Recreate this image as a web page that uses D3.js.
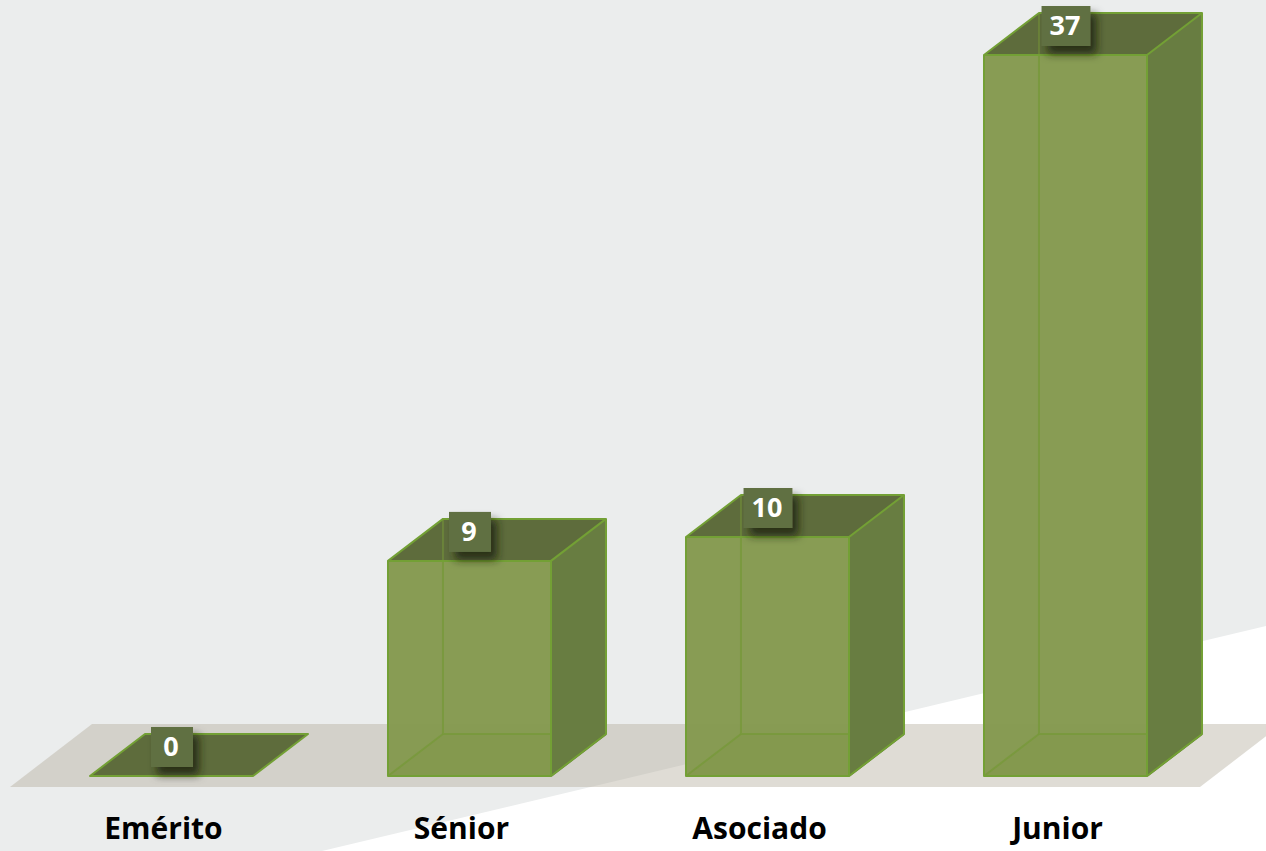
<!DOCTYPE html>
<html>
<head>
<meta charset="utf-8">
<script src="https://cdn.jsdelivr.net/npm/d3@7"></script>
<style>
  html, body { margin: 0; padding: 0; background: #ebeded; }
  svg { display: block; }
</style>
</head>
<body>
<svg id="chart" width="1266" height="851"></svg>
<script>
const categories = ["Emérito", "Sénior", "Asociado", "Junior"];
const values = [0, 9, 10, 37];
const valueLabels = ["0", "9", "10", "37"];

const W = 1266, H = 851;
const svg = d3.select("#chart");

const baseY = 776;          // front bottom edge of bars
const depthX = 55, depthY = 42;

const x = d3.scaleBand()
  .domain(categories)
  .range([90, 1147])
  .paddingInner(0.453)
  .paddingOuter(0);

const y = d3.scaleLinear()
  .domain([0, 10, 37])
  .range([baseY, 537, 55]);

const defs = svg.append("defs");
const sh = defs.append("filter").attr("id", "shadow")
  .attr("x", "-50%").attr("y", "-50%").attr("width", "200%").attr("height", "200%");
sh.append("feDropShadow").attr("dx", 6).attr("dy", 8).attr("stdDeviation", 4)
  .attr("flood-color", "#1c2610").attr("flood-opacity", 0.85);
const grad = defs.append("linearGradient").attr("id", "sweep")
  .attr("gradientUnits", "userSpaceOnUse")
  .attr("x1", 760).attr("y1", 700).attr("x2", 775).attr("y2", 760);
grad.append("stop").attr("offset", 0).attr("stop-color", "#ffffff").attr("stop-opacity", 0);
grad.append("stop").attr("offset", 1).attr("stop-color", "#ffffff").attr("stop-opacity", 1);

// background
svg.append("rect").attr("width", W).attr("height", H).attr("fill", "#ebeded");
// white sweep bottom-right
svg.append("path")
  .attr("d", `M322,${H} L${W},626 L${W},${H} Z`)
  .attr("fill", "#ffffff");

// floor
const floorFront = baseY + 11, fdx = 82, fdy = 63;
svg.append("path")
  .attr("d", `M10,${floorFront} L1200,${floorFront} L${1200 + fdx},${floorFront - fdy} L${10 + fdx},${floorFront - fdy} Z`)
  .attr("fill", "rgba(178,172,155,0.42)");

const line = d3.line();
const edge = "#73a035";
const bars = svg.append("g");

categories.forEach((c, i) => {
  const v = values[i];
  const x0 = x(c), w = x.bandwidth();
  const yt = y(v);
  const g = bars.append("g");
  const topPts = [[x0, yt], [x0 + depthX, yt - depthY], [x0 + w + depthX, yt - depthY], [x0 + w, yt]];
  if (v > 0) {
    g.append("path")
      .attr("d", line([[x0, baseY], [x0 + depthX, baseY - depthY], [x0 + w + depthX, baseY - depthY], [x0 + w, baseY]]) + "Z")
      .attr("fill", "#7f9749");
    g.append("path")
      .attr("d", line([[x0, yt], [x0 + w, yt], [x0 + w, baseY], [x0, baseY]]) + "Z")
      .attr("fill", "#84994e").attr("fill-opacity", 0.97);
    g.append("path")
      .attr("d", line([[x0 + depthX, yt - depthY], [x0 + depthX, baseY - depthY], [x0 + w + depthX, baseY - depthY]]))
      .attr("fill", "none").attr("stroke", "#77993a").attr("stroke-width", 2).attr("stroke-opacity", 0.8);
    g.append("path")
      .attr("d", line([[x0, baseY], [x0 + depthX, baseY - depthY]]))
      .attr("fill", "none").attr("stroke", "#77993a").attr("stroke-width", 2).attr("stroke-opacity", 0.8);
    g.append("path")
      .attr("d", line([[x0 + w, yt], [x0 + w + depthX, yt - depthY], [x0 + w + depthX, baseY - depthY], [x0 + w, baseY]]) + "Z")
      .attr("fill", "#687d41");
    g.append("path")
      .attr("d", line([[x0 + w, baseY], [x0 + w + depthX, baseY - depthY]]))
      .attr("fill", "none").attr("stroke", "#5f7838").attr("stroke-width", 2);
    g.append("path").attr("d", line(topPts) + "Z").attr("fill", "#5e6c3c");
    g.append("path")
      .attr("d", line([[x0 + depthX, yt - depthY], [x0 + depthX, yt]]))
      .attr("stroke", "#6f8a3a").attr("stroke-width", 1.5);
    g.append("path")
      .attr("d", line([[x0, baseY], [x0, yt], [x0 + depthX, yt - depthY], [x0 + w + depthX, yt - depthY], [x0 + w + depthX, baseY - depthY], [x0 + w, baseY]]) + "Z")
      .attr("fill", "none").attr("stroke", edge).attr("stroke-width", 2).attr("stroke-linejoin", "round");
    g.append("path")
      .attr("d", line([[x0, yt], [x0 + w, yt], [x0 + w + depthX, yt - depthY]]))
      .attr("fill", "none").attr("stroke", edge).attr("stroke-width", 2);
    g.append("path")
      .attr("d", line([[x0 + w, yt], [x0 + w, baseY]]))
      .attr("fill", "none").attr("stroke", edge).attr("stroke-width", 2);
  } else {
    g.append("path").attr("d", line(topPts) + "Z")
      .attr("fill", "#5e6c3c").attr("stroke", edge).attr("stroke-width", 2).attr("stroke-linejoin", "round");
  }
});

// value labels
const lbl = svg.append("g");
categories.forEach((c, i) => {
  const bx = x(c) + depthX, by = y(values[i]) - depthY;
  const cx = bx + 26;
  const g = lbl.append("g");
  const t = g.append("text")
    .attr("x", cx).attr("y", by + 22)
    .attr("text-anchor", "middle")
    .attr("font-family", "'Open Sans', sans-serif")
    .attr("font-weight", 700).attr("font-size", 27)
    .attr("fill", "#ffffff")
    .text(valueLabels[i]);
  const tw = t.node().getComputedTextLength();
  const bw = Math.max(tw + 18, 42);
  g.insert("rect", "text")
    .attr("x", cx - bw / 2 + 1).attr("y", by - 7)
    .attr("width", bw).attr("height", 40)
    .attr("fill", "#617043")
    .attr("filter", "url(#shadow)");
});

// category labels
svg.append("g").selectAll("text")
  .data(categories)
  .join("text")
  .attr("x", d => x(d) + x.bandwidth() / 2 - 8)
  .attr("y", 839)
  .attr("text-anchor", "middle")
  .attr("font-family", "'Open Sans', sans-serif")
  .attr("font-weight", 700)
  .attr("font-size", 30)
  .attr("fill", "#000000")
  .text(d => d);
</script>
</body>
</html>
